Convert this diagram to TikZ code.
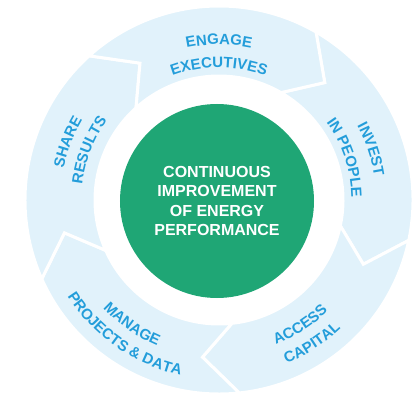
\documentclass[tikz,border=0pt]{standalone}
\usepackage{fontspec}
\setmainfont{Liberation Sans}
\usetikzlibrary{decorations.text}
\definecolor{ringblue}{HTML}{E1F2FB}
\definecolor{labelblue}{HTML}{239DDA}
\definecolor{coregreen}{HTML}{1FA675}
\newcommand{\ringfont}{\fontsize{15}{18}\selectfont\bfseries\color{labelblue}}
\begin{document}
\begin{tikzpicture}[x=1pt,y=1pt]
    \tikzset{piece/.style={fill=ringblue, draw=white, line width=3pt, line join=miter}}
    \tikzset{ringlabel/.style={decorate, decoration={text along path, text align=center, text={|\ringfont|#1}}}}
    \useasboundingbox (-219,-196) rectangle (195,200);

    \foreach \a in {60,-12,-84,-156,-228}{
      \pgfmathsetmacro{\b}{\a-72}
      \draw[piece] (\a:194) arc[start angle=\a, end angle=\b, radius=194] -- (\b-12:158) -- (\b:124) arc[start angle=\b, end angle=\a, radius=124] -- (\a-12:158) -- cycle;
    }

    \node[circle, fill=coregreen, minimum size=194pt, inner sep=0pt, align=center, text=white, font=\fontsize{16}{19.5}\selectfont\bfseries] (core) at (-2,-1) {CONTINUOUS\\IMPROVEMENT\\OF ENERGY\\PERFORMANCE};

    \path[ringlabel={ENGAGE}] (130:155.5) arc[start angle=130, end angle=50, radius=155.5];
    \path[ringlabel={EXECUTIVES}] (130:132.5) arc[start angle=130, end angle=50, radius=132.5];
    \path[ringlabel={INVEST}] (58.5:157) arc[start angle=58.5, end angle=-21.5, radius=157];
    \path[ringlabel={IN PEOPLE}] (58.5:132.5) arc[start angle=58.5, end angle=-21.5, radius=132.5];
    \path[ringlabel={ACCESS}] (-97:155.5) arc[start angle=-97, end angle=-17, radius=155.5];
    \path[ringlabel={CAPITAL}] (-97:177) arc[start angle=-97, end angle=-17, radius=177];
    \path[ringlabel={MANAGE}] (-165:158.5) arc[start angle=-165, end angle=-85, radius=158.5];
    \path[ringlabel={PROJECTS {\&} DATA}] (-165:179.5) arc[start angle=-165, end angle=-85, radius=179.5];
    \path[ringlabel={SHARE}] (199:158.5) arc[start angle=199, end angle=119, radius=158.5];
    \path[ringlabel={RESULTS}] (199:137.5) arc[start angle=199, end angle=119, radius=137.5];

\end{tikzpicture}
\end{document}
